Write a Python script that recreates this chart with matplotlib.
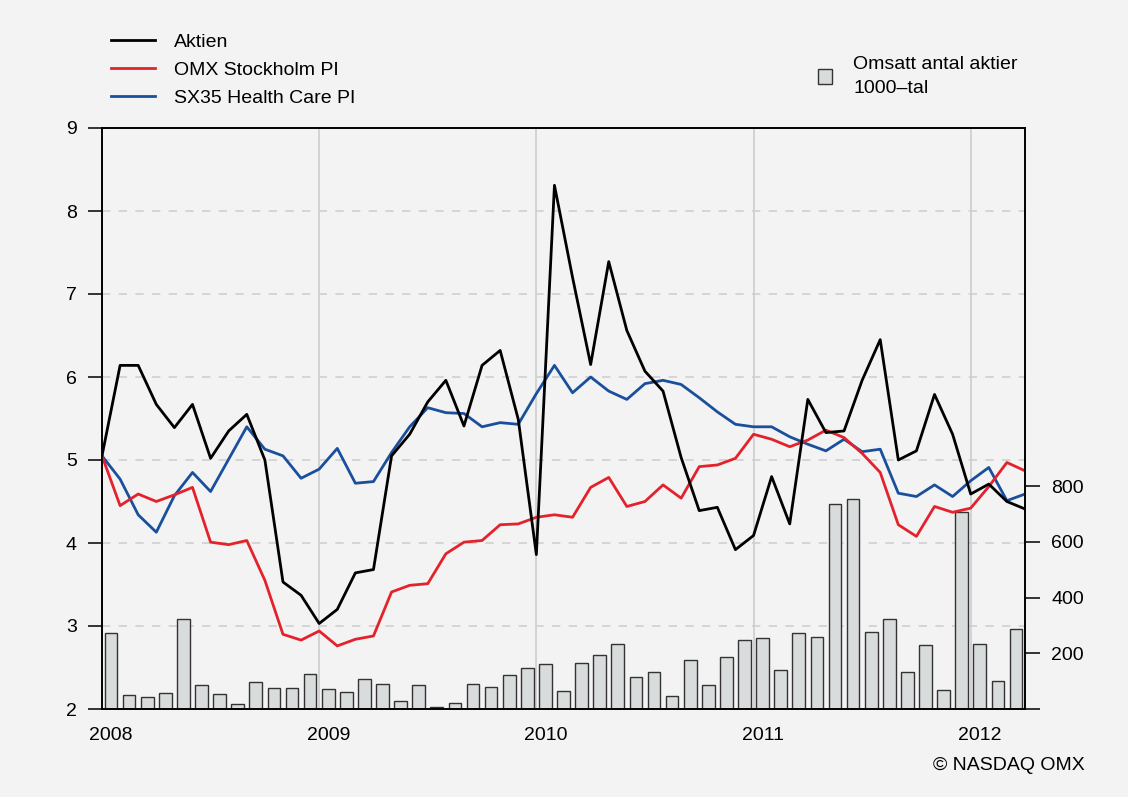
import numpy as np
import matplotlib
matplotlib.use("Agg")
from matplotlib import pyplot as plt
from matplotlib.lines import Line2D
from matplotlib.patches import Patch
from matplotlib.transforms import blended_transform_factory

plt.rcParams['font.family'] = ['Liberation Sans', 'DejaVu Sans']

# monthly values, Jan 2008 .. Apr 2012
aktien = [5.05, 6.14, 6.14, 5.67, 5.39, 5.67, 5.02, 5.35, 5.55, 5.00,
          3.53, 3.37, 3.03, 3.20, 3.64, 3.68, 5.05, 5.31, 5.70, 5.96,
          5.41, 6.14, 6.32, 5.49, 3.86, 8.31, 7.20, 6.15, 7.39, 6.56,
          6.07, 5.83, 5.03, 4.39, 4.43, 3.92, 4.09, 4.80, 4.23, 5.73,
          5.33, 5.35, 5.96, 6.45, 5.00, 5.11, 5.79, 5.31, 4.59, 4.71,
          4.50, 4.41]
omx = [5.05, 4.45, 4.59, 4.50, 4.58, 4.67, 4.01, 3.98, 4.03, 3.55,
       2.90, 2.83, 2.94, 2.76, 2.84, 2.88, 3.41, 3.49, 3.51, 3.87,
       4.01, 4.03, 4.22, 4.23, 4.31, 4.34, 4.31, 4.67, 4.79, 4.44,
       4.50, 4.70, 4.54, 4.92, 4.94, 5.02, 5.31, 5.25, 5.16, 5.24,
       5.36, 5.27, 5.08, 4.85, 4.22, 4.08, 4.44, 4.37, 4.42, 4.68,
       4.97, 4.87]
health = [5.05, 4.77, 4.34, 4.13, 4.57, 4.85, 4.62, 5.01, 5.40, 5.13,
          5.05, 4.78, 4.89, 5.14, 4.72, 4.74, 5.09, 5.40, 5.63, 5.57,
          5.56, 5.40, 5.45, 5.43, 5.80, 6.14, 5.81, 6.00, 5.83, 5.73,
          5.92, 5.96, 5.91, 5.75, 5.58, 5.43, 5.40, 5.40, 5.28, 5.19,
          5.11, 5.25, 5.10, 5.13, 4.60, 4.56, 4.70, 4.56, 4.75, 4.91,
          4.51, 4.59]
# traded shares, thousands, one bar per month
volume = [274, 51, 43, 58, 323, 85, 54, 17, 97, 77,
          76, 124, 72, 61, 109, 91, 28, 87, 8, 21,
          90, 79, 123, 149, 163, 63, 167, 194, 234, 116,
          132, 47, 175, 87, 188, 248, 255, 141, 273, 258,
          735, 756, 276, 323, 134, 230, 68, 707, 233, 102,
          288]
years = ['2008', '2009', '2010', '2011', '2012']

bg = '#f3f3f3'
fs = 14
fig = plt.figure(figsize=(11.28, 7.97), dpi=100, facecolor=bg)
ax = fig.add_axes([102 / 1128, 1 - 709 / 797, 923 / 1128, 581 / 797])
ax2 = ax.twinx()
ax.set_zorder(ax2.get_zorder() + 1)
ax.patch.set_visible(False)
ax2.set_facecolor(bg)

x_line = np.arange(len(aktien))
x_bar = np.arange(len(volume)) + 0.5

# grid behind the bars
grid_tf = blended_transform_factory(ax2.transAxes, ax.transData)
for v in range(3, 9):
    ax2.plot([0, 1], [v, v], transform=grid_tf, color='#cfcfcf', lw=1.2,
             dashes=(5, 5), zorder=0)
for k in range(1, len(years)):
    ax2.axvline(k * 12, color='#d0d0d0', lw=1.3, zorder=0)

ax2.bar(x_bar, volume, width=0.7, color='#d9dcdc', edgecolor='#333333',
        linewidth=1.0, zorder=2)
ax2.set_ylim(0, 2087)
ax2.set_yticks([0, 200, 400, 600, 800])
ax2.set_yticklabels(['', '200', '400', '600', '800'])

ax.plot(x_line, health, color='#1a4f9c', lw=2.0)
ax.plot(x_line, omx, color='#e3222b', lw=2.0)
ax.plot(x_line, aktien, color='black', lw=2.0)

ax.set_xlim(0, len(aktien) - 1)
ax.set_ylim(2, 9)
ax.set_yticks(range(2, 10))
ax.set_xticks([k * 12 + 0.5 for k in range(len(years))])
ax.set_xticklabels(years)

for a in (ax, ax2):
    for s in a.spines.values():
        s.set_linewidth(1.2)
        s.set_color('black')
ax.tick_params(axis='y', length=10, width=1.1, pad=8, labelsize=fs)
ax.tick_params(axis='x', length=0, pad=13, labelsize=fs)
ax2.tick_params(axis='y', length=11, width=1.1, pad=8, labelsize=fs)

handles = [Line2D([], [], color='black', lw=2.0),
           Line2D([], [], color='#e3222b', lw=2.0),
           Line2D([], [], color='#1a4f9c', lw=2.0)]
fig.legend(handles, ['Aktien', 'OMX Stockholm PI', 'SX35 Health Care PI'],
           loc='upper left', bbox_to_anchor=(93 / 1128, 1 - 16 / 797),
           frameon=False, fontsize=fs, handlelength=2.27,
           handletextpad=0.98, labelspacing=0.52)
leg2 = fig.legend([Patch(facecolor='#d9dcdc', edgecolor='#333333', lw=1.0)],
                  ['Omsatt antal aktier\n1000–tal'],
                  loc='upper left', bbox_to_anchor=(800 / 1128, 1 - 39 / 797),
                  frameon=False, fontsize=fs, handlelength=0.77,
                  handleheight=0.77, handletextpad=1.08)
for t in leg2.get_texts():
    t.set_linespacing(1.5)

fig.text(1085 / 1128, 1 - 765 / 797, '© NASDAQ OMX', ha='right', va='center',
         fontsize=fs)

fig.savefig('out.png', dpi=100, facecolor=bg)
